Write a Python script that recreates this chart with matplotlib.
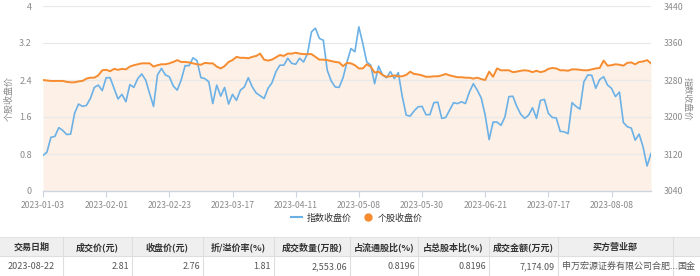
import numpy as np
import matplotlib
matplotlib.use("Agg")
import matplotlib.pyplot as plt
from matplotlib.lines import Line2D
from matplotlib.patches import Rectangle

plt.rcParams['font.family'] = ['Noto Sans CJK SC', 'DejaVu Sans']

# ---------------- data ----------------
tick_labels = ["2023-01-03", "2023-02-01", "2023-02-23", "2023-03-17", "2023-04-11",
               "2023-05-08", "2023-05-30", "2023-06-21", "2023-07-17", "2023-08-08"]
tick_step = 16

stock_close = [
    2.40, 2.39, 2.38, 2.38, 2.38, 2.38, 2.36, 2.35, 2.35, 2.37,
    2.38, 2.43, 2.45, 2.45, 2.50, 2.61, 2.62, 2.59, 2.64, 2.62,
    2.64, 2.63, 2.69, 2.72, 2.74, 2.76, 2.76, 2.76, 2.69, 2.72,
    2.74, 2.74, 2.76, 2.79, 2.83, 2.79, 2.79, 2.78, 2.76, 2.74,
    2.73, 2.77, 2.76, 2.76, 2.69, 2.65, 2.70, 2.79, 2.83, 2.90,
    2.88, 2.88, 2.87, 2.90, 2.92, 2.97, 2.84, 2.82, 2.84, 2.89,
    2.94, 2.92, 2.97, 2.97, 2.99, 2.97, 2.96, 2.96, 2.96, 2.90,
    2.84, 2.84, 2.83, 2.81, 2.79, 2.78, 2.70, 2.77, 2.76, 2.72,
    2.65, 2.65, 2.74, 2.69, 2.56, 2.58, 2.51, 2.47, 2.48, 2.50,
    2.48, 2.48, 2.51, 2.58, 2.53, 2.52, 2.50, 2.47, 2.47, 2.48,
    2.48, 2.50, 2.53, 2.50, 2.48, 2.46, 2.46, 2.45, 2.45, 2.43,
    2.45, 2.42, 2.40, 2.58, 2.47, 2.65, 2.61, 2.61, 2.61, 2.57,
    2.58, 2.60, 2.61, 2.60, 2.57, 2.60, 2.57, 2.59, 2.64, 2.66,
    2.65, 2.61, 2.61, 2.60, 2.63, 2.63, 2.62, 2.61, 2.61, 2.63,
    2.65, 2.66, 2.82, 2.71, 2.72, 2.74, 2.73, 2.71, 2.77, 2.78,
    2.74, 2.79, 2.80, 2.83, 2.76,
]

index_close = [
    3117, 3124, 3156, 3158, 3177, 3171, 3162, 3163, 3208, 3228,
    3223, 3225, 3240, 3264, 3269, 3257, 3285, 3285, 3262, 3239,
    3249, 3233, 3270, 3264, 3283, 3293, 3280, 3251, 3223, 3291,
    3305, 3291, 3287, 3267, 3258, 3280, 3311, 3311, 3328, 3322,
    3285, 3283, 3276, 3229, 3269, 3245, 3264, 3228, 3249, 3236,
    3258, 3265, 3285, 3265, 3252, 3246, 3240, 3262, 3274, 3298,
    3312, 3312, 3327, 3316, 3314, 3327, 3319, 3337, 3384, 3392,
    3370, 3366, 3301, 3278, 3265, 3264, 3285, 3319, 3348, 3341,
    3395, 3359, 3319, 3312, 3272, 3310, 3291, 3285, 3298, 3283,
    3296, 3244, 3204, 3202, 3213, 3222, 3223, 3205, 3205, 3231,
    3232, 3197, 3199, 3215, 3231, 3229, 3233, 3229, 3254, 3272,
    3258, 3241, 3204, 3151, 3189, 3189, 3182, 3200, 3244, 3245,
    3223, 3206, 3197, 3204, 3220, 3197, 3236, 3238, 3208, 3199,
    3198, 3169, 3168, 3164, 3231, 3223, 3217, 3276, 3291, 3290,
    3262, 3281, 3287, 3269, 3262, 3244, 3254, 3188, 3179, 3176,
    3150, 3163, 3135, 3094, 3121,
]

left_ticks = [0, 0.8, 1.6, 2.4, 3.2, 4]
right_ticks = [3040, 3120, 3200, 3280, 3360, 3440]

table_headers = ["交易日期", "成交价(元)", "收盘价(元)", "折/溢价率(%)", "成交数量(万股)",
                 "占流通股比(%)", "占总股本比(%)", "成交金额(万元)", "买方营业部", ""]
table_row = ["2023-08-22", "2.81", "2.76", "1.81", "2,553.06",
             "0.8196", "0.8196", "7,174.09", "申万宏源证券有限公司合肥...", "国金"]

# ---------------- style ----------------
ORANGE = '#f68c2f'
BLUE = '#6cb1e6'
FILL = '#fdf1e7'
GRID = '#e9e9e9'
AXIS = '#cdd5e3'
TXT = '#8a8a8a'

W, H = 700, 276
fig = plt.figure(figsize=(W / 100, H / 100), dpi=100)

L, R, T, B = 43, 651, 6, 191
rect = [L / W, 1 - B / H, (R - L) / W, (B - T) / H]

x = np.arange(len(stock_close))

ax = fig.add_axes(rect)
ax.set_xlim(0, len(x) - 1)
ax.set_ylim(0, 4)
ax.fill_between(x, stock_close, 0, color=FILL, lw=0, zorder=1)
for v in left_ticks[1:]:
    ax.axhline(v, color=GRID, lw=0.9, zorder=2)
ax.set_yticks(left_ticks)
ax.set_yticklabels([f"{v:g}" for v in left_ticks])
ax.set_xticks(x[::tick_step])
ax.set_xticklabels(tick_labels)
ax.tick_params(axis='x', length=4, color=AXIS, labelsize=6.2, labelcolor=TXT, pad=3)
ax.tick_params(axis='y', length=0, labelsize=6.5, labelcolor=TXT, pad=8)
for s in ['top', 'right', 'left']:
    ax.spines[s].set_visible(False)
ax.spines['bottom'].set_color(AXIS)
ax.spines['bottom'].set_linewidth(1)
ax.set_ylabel("个股收盘价", fontsize=6.5, color=TXT, labelpad=4)

ax2 = ax.twinx()
ax2.set_ylim(3040, 3440)
ax2.plot(x, index_close, color=BLUE, lw=1.2, zorder=3)
ax2.set_yticks(right_ticks)
ax2.tick_params(axis='y', length=0, labelsize=6.3, labelcolor=TXT, pad=9)
for s in ax2.spines.values():
    s.set_visible(False)
ax2.set_ylabel("指数收盘价", fontsize=6.3, color=TXT, rotation=270, labelpad=6)

ax3 = ax.twinx()
ax3.set_ylim(0, 4)
ax3.plot(x, stock_close, color=ORANGE, lw=1.4, zorder=4)
ax3.set_yticks([])
for s in ax3.spines.values():
    s.set_visible(False)

# legend
handles = [Line2D([0], [0], color=BLUE, lw=1.5),
           Line2D([0], [0], color=ORANGE, marker='o', lw=0, markersize=5)]
fig.legend(handles, ["指数收盘价", "个股收盘价"], loc='center',
           bbox_to_anchor=(357 / W, 1 - 218 / H), ncol=2, frameon=False,
           fontsize=6.5, handlelength=1.2, handletextpad=0.5, columnspacing=1.2,
           labelcolor='#333333')

# ---------------- table ----------------
tax = fig.add_axes([0, 0, 1, 1])
tax.set_xlim(0, W)
tax.set_ylim(H, 0)
tax.axis('off')
col_edges = [0, 63, 132, 203, 274, 350, 418, 489, 558, 673, 740]
hdr_top, hdr_bot, row_bot = 237, 256, 277
tax.add_patch(Rectangle((0, hdr_top), W, hdr_bot - hdr_top, facecolor='#efefef',
                        edgecolor='none', zorder=1))
tax.plot([0, W], [hdr_bot, hdr_bot], color='#dedede', lw=0.8, zorder=2)
tax.plot([0, W], [hdr_top, hdr_top], color='#e4e4e4', lw=0.8, zorder=2)
for e in col_edges[1:-1]:
    tax.plot([e, e], [hdr_top, row_bot], color='#dedede', lw=0.8, zorder=2)
for i, (h, v) in enumerate(zip(table_headers, table_row)):
    a, b = col_edges[i], col_edges[i + 1]
    if h:
        tax.text((a + b) / 2, (hdr_top + hdr_bot) / 2 + 0.5, h, ha='center', va='center',
                 fontsize=6.5, color='#333333', fontweight='bold', zorder=3)
    if i == 0:
        tax.text((a + b) / 2, (hdr_bot + row_bot) / 2, v, ha='center', va='center',
                 fontsize=6.5, color='#555555', zorder=3)
    elif i >= 8:
        tax.text(a + 4, (hdr_bot + row_bot) / 2, v, ha='left', va='center',
                 fontsize=6.5, color='#555555', zorder=3)
    else:
        tax.text(b - 3, (hdr_bot + row_bot) / 2, v, ha='right', va='center',
                 fontsize=6.5, color='#555555', zorder=3)

fig.savefig("out.png", dpi=100)
